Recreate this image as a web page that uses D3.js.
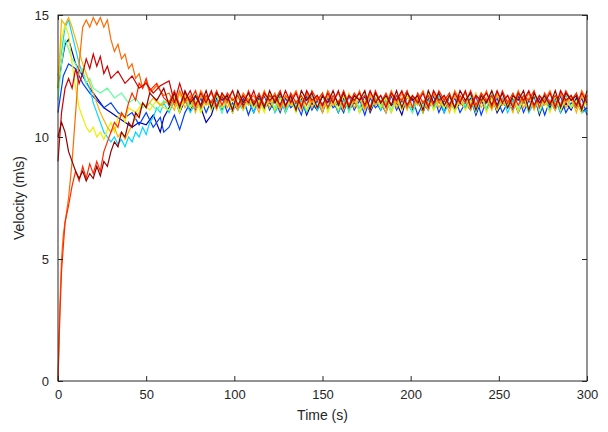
<!DOCTYPE html>
<html><head><meta charset="utf-8">
<script src="https://cdn.jsdelivr.net/npm/d3@7"></script>
<style>body{margin:0;background:#fff}text{font-family:"Liberation Sans",Arial,sans-serif}</style>
</head><body><svg></svg>
<script>
// transient part of each run: [time, velocity]
var trans0=[[0,12],[2,13],[4,13.8],[6,14],[8,13.5],[10,13],[14,12.5],[18,12],[22,11.6],[26,11.2],[30,11],[34,10.8],[38,10.6],[42,10.4],[46,10.6],[50,10.5],[54,10.9],[58,10.2],[60,10.8]];
var trans1=[[0,11],[3,12.5],[6,13],[10,12.8],[14,12.2],[18,11.8],[22,11.5],[26,11.2],[30,11.4],[34,11],[38,10.8],[42,11],[46,10.5],[50,11],[54,10.4],[58,10.8],[60,10.2]];
var trans2=[[0,12.5],[2,13.5],[4,14.5],[6,14.8],[8,14.2],[10,13.6],[12,13],[14,12.6],[16,12.2],[18,12],[20,11.4],[22,11],[24,10.6],[26,10.2],[28,10],[30,9.8],[32,10],[34,9.7],[36,9.9],[38,9.6],[40,10],[42,9.8],[44,10.2],[46,10],[48,10.4],[50,10.1],[52,10.6],[54,10.8],[56,11.2],[58,11],[60,11.4]];
var trans3=[[0,11.5],[2,13],[4,14],[6,13.6],[8,13.2],[10,13],[12,12.6],[14,12.8],[16,12.2],[18,12.4],[20,12],[24,11.8],[28,12],[32,11.6],[36,11.8],[40,11.4],[44,11.6],[48,11.2],[52,11.4],[56,11.1],[60,11.5]];
var trans4=[[0,12],[2,14],[4,14.6],[6,14.2],[8,13],[10,12],[12,11.2],[14,10.8],[16,10.4],[18,10.2],[20,10.4],[22,10],[24,10.2],[26,9.9],[28,10.3],[30,10.6],[32,10.2],[34,10.8],[36,11],[38,10.6],[40,11.2],[44,11],[48,11.4],[52,11.1],[56,11.5],[60,11.2]];
var trans5=[[0,12],[2,14.8],[4,14.6],[6,14.9],[8,14.5],[10,14],[12,13.5],[14,13],[16,12.6],[18,12.2],[20,11.8],[22,11.4],[24,11],[26,10.7],[28,10.4],[30,10.2],[32,10.4],[34,10],[36,10.2],[38,9.9],[40,10.2],[42,10.5],[44,10.8],[46,11],[48,11.4],[50,11.2],[54,11.6],[58,11.3]];
var trans6=[[0,0],[1,3],[2,5],[3,6],[4,6.5],[6,7.5],[8,9],[10,11],[12,13],[14,14.5],[16,14.8],[18,14.5],[20,14.9],[22,14.6],[24,14.9],[26,14.5],[28,14.8],[30,14],[32,13.5],[34,13.8],[36,13.2],[38,13.4],[40,12.8],[42,13],[44,12.4],[46,12.6],[48,12],[50,12.3],[52,11.8],[56,12.1],[60,11.7]];
var trans7=[[0,0],[1,2.5],[2,4.5],[3,5.5],[4,6.5],[6,7.2],[8,8],[10,8.6],[12,8.2],[14,8.8],[16,8.3],[18,8.9],[20,8.5],[22,9],[24,8.6],[26,9.4],[28,9.8],[30,10.2],[32,10.6],[34,10.4],[36,11],[38,10.8],[40,11.4],[42,11.8],[44,11.5],[46,12.2],[48,12],[50,12.4],[52,11.9],[56,12.2],[60,11.6]];
var trans8=[[0,9],[2,11],[4,12],[6,12.4],[8,12],[10,12.8],[12,12.2],[14,12.6],[16,13.2],[18,12.8],[20,13.4],[22,12.9],[24,13.3],[26,12.6],[28,12.9],[30,12.4],[34,12.7],[38,12.2],[42,12.5],[46,12],[50,12.2],[54,11.8],[58,12.1]];
var trans9=[[0,10],[2,10.6],[4,10.2],[6,9.4],[8,9],[10,8.6],[12,8.3],[14,8.6],[16,8.2],[18,8.5],[20,8.3],[22,8.8],[24,8.4],[26,9],[28,8.8],[30,9.4],[32,9.8],[34,9.6],[36,10.2],[38,10],[40,10.6],[42,10.4],[44,11],[46,10.8],[48,11.4],[50,11.2],[52,11.8],[56,11.5],[60,12]];

// steady part, one value every 3 s from 63 s to 300 s
var steadyStart=63, steadyStep=3;
var steady0=[11.2,11.6,11.0,11.5,11.1,11.7,11.2,10.6,10.9,11.6,11.1,11.5,11.0,11.7,11.3,11.5,11.0,11.6,11.2,11.4,
11.1,11.7,11.0,11.5,11.2,11.6,10.9,11.4,11.1,11.7,11.2,11.5,11.0,11.6,11.1,11.4,11.2,11.7,11.0,11.5,
11.1,11.6,11.3,11.4,10.9,11.7,11.1,11.5,11.0,11.6,11.2,11.5,11.0,11.7,11.1,11.4,11.2,11.6,10.9,11.5,
11.1,11.7,11.0,11.4,11.2,11.6,11.0,11.5,11.1,11.7,10.9,11.5,11.2,11.6,11.0,11.4,11.1,11.6,11.0,11.2];
var steady1=[10.4,10.9,10.3,11.0,11.4,11.1,11.6,11.0,11.5,11.2,11.7,11.0,11.4,11.1,11.6,10.9,11.5,11.2,11.7,11.1,
11.5,11.0,11.6,11.2,11.4,10.9,11.7,11.1,11.5,11.0,11.6,11.2,11.4,11.0,11.7,11.1,11.5,10.9,11.6,11.2,
11.4,11.0,11.7,11.1,11.5,11.2,11.6,10.9,11.4,11.1,11.7,11.0,11.5,11.2,11.6,11.0,11.4,11.1,11.7,10.9,
11.5,11.2,11.6,11.0,11.4,11.1,11.7,11.0,11.5,11.2,11.6,10.9,11.5,11.1,11.7,11.0,11.4,11.2,11.6,10.9];
var steady2=[11.0,11.5,11.1,11.6,11.0,11.4,11.2,11.6,11.1,11.5,11.0,11.7,11.2,11.4,11.1,11.6,11.0,11.5,11.2,11.7,
11.0,11.4,11.1,11.6,11.2,11.5,11.0,11.7,11.1,11.4,11.2,11.6,11.0,11.5,11.1,11.7,11.0,11.4,11.2,11.6,
11.1,11.5,11.0,11.7,11.2,11.4,11.0,11.6,11.1,11.5,11.2,11.7,11.0,11.4,11.1,11.6,11.2,11.5,11.0,11.7,
11.1,11.4,11.2,11.6,11.0,11.5,11.1,11.7,11.0,11.4,11.2,11.6,11.1,11.5,11.0,11.7,11.2,11.4,11.0,11.1];
var steady3=[11.3,11.7,11.1,11.6,11.2,11.8,11.1,11.5,11.3,11.7,11.0,11.6,11.2,11.8,11.1,11.5,11.3,11.7,11.1,11.6,
11.2,11.8,11.0,11.5,11.3,11.7,11.1,11.6,11.2,11.8,11.1,11.5,11.3,11.7,11.0,11.6,11.2,11.8,11.1,11.5,
11.3,11.7,11.1,11.6,11.2,11.8,11.0,11.5,11.3,11.7,11.1,11.6,11.2,11.8,11.1,11.5,11.3,11.7,11.0,11.6,
11.2,11.8,11.1,11.5,11.3,11.7,11.1,11.6,11.2,11.8,11.0,11.5,11.3,11.7,11.1,11.6,11.2,11.8,11.1,11.5];
var steady4=[11.1,11.6,11.0,11.7,11.2,11.5,11.0,11.6,11.1,11.8,11.2,11.5,11.0,11.7,11.1,11.6,11.2,11.5,11.0,11.8,
11.1,11.6,11.2,11.5,11.0,11.7,11.1,11.6,11.2,11.8,11.0,11.5,11.1,11.7,11.2,11.6,11.0,11.5,11.1,11.8,
11.2,11.6,11.0,11.5,11.1,11.7,11.2,11.6,11.0,11.8,11.1,11.5,11.2,11.7,11.0,11.6,11.1,11.5,11.2,11.8,
11.0,11.6,11.1,11.5,11.2,11.7,11.0,11.6,11.1,11.8,11.2,11.5,11.0,11.7,11.1,11.6,11.2,11.5,11.0,11.7];
var steady5=[11.5,11.1,11.8,11.2,11.6,11.0,11.7,11.3,11.5,11.1,11.8,11.2,11.6,11.1,11.7,11.3,11.5,11.0,11.8,11.2,
11.6,11.1,11.7,11.3,11.5,11.1,11.8,11.2,11.6,11.0,11.7,11.3,11.5,11.1,11.8,11.2,11.6,11.1,11.7,11.3,
11.5,11.0,11.8,11.2,11.6,11.1,11.7,11.3,11.5,11.1,11.8,11.2,11.6,11.0,11.7,11.3,11.5,11.1,11.8,11.2,
11.6,11.1,11.7,11.3,11.5,11.0,11.8,11.2,11.6,11.1,11.7,11.3,11.5,11.1,11.8,11.2,11.6,11.0,11.7,11.3];
var steady6=[11.8,11.3,11.9,11.4,11.7,11.2,11.9,11.5,11.8,11.3,11.7,11.4,11.9,11.2,11.8,11.5,11.7,11.3,11.9,11.4,
11.8,11.2,11.7,11.5,11.9,11.3,11.8,11.4,11.7,11.2,11.9,11.5,11.8,11.3,11.7,11.4,11.9,11.2,11.8,11.5,
11.7,11.3,11.9,11.4,11.8,11.2,11.7,11.5,11.9,11.3,11.8,11.4,11.7,11.2,11.9,11.5,11.8,11.3,11.7,11.4,
11.9,11.2,11.8,11.5,11.7,11.3,11.9,11.4,11.8,11.2,11.7,11.5,11.9,11.3,11.8,11.4,11.7,11.2,11.9,11.5];
var steady7=[11.4,11.9,11.3,11.8,11.5,11.9,11.2,11.7,11.4,11.9,11.3,11.8,11.5,11.7,11.2,11.9,11.4,11.8,11.3,11.7,
11.5,11.9,11.2,11.8,11.4,11.7,11.3,11.9,11.5,11.8,11.2,11.7,11.4,11.9,11.3,11.8,11.5,11.7,11.2,11.9,
11.4,11.8,11.3,11.7,11.5,11.9,11.2,11.8,11.4,11.7,11.3,11.9,11.5,11.8,11.2,11.7,11.4,11.9,11.3,11.8,
11.5,11.7,11.2,11.9,11.4,11.8,11.3,11.7,11.5,11.9,11.2,11.8,11.4,11.7,11.3,11.9,11.5,11.8,11.2,11.7];
var steady8=[12.3,11.4,12.2,11.5,11.9,11.3,11.8,11.4,11.9,11.2,11.8,11.5,11.9,11.3,11.7,11.4,11.9,11.2,11.8,11.5,
11.7,11.3,11.9,11.4,11.8,11.2,11.9,11.5,11.7,11.3,11.8,11.4,11.9,11.2,11.7,11.5,11.8,11.3,11.9,11.4,
11.7,11.2,11.8,11.5,11.9,11.3,11.7,11.4,11.8,11.2,11.9,11.5,11.7,11.3,11.8,11.4,11.9,11.2,11.7,11.5,
11.8,11.3,11.9,11.4,11.7,11.2,11.8,11.5,11.9,11.3,11.7,11.4,11.8,11.2,11.9,11.5,11.7,11.3,11.8,11.4];
var steady9=[11.3,11.8,11.2,11.9,11.4,11.7,11.3,11.9,11.2,11.8,11.5,11.7,11.1,11.9,11.4,11.8,11.3,11.7,11.2,11.9,
11.4,11.8,11.3,11.7,11.1,11.9,11.5,11.8,11.2,11.7,11.4,11.9,11.3,11.8,11.2,11.7,11.5,11.9,11.1,11.8,
11.4,11.7,11.3,11.9,11.2,11.8,11.5,11.7,11.1,11.9,11.4,11.8,11.3,11.7,11.2,11.9,11.5,11.8,11.1,11.7,
11.4,11.9,11.3,11.8,11.2,11.7,11.5,11.9,11.1,11.8,11.4,11.7,11.3,11.9,11.2,11.8,11.5,11.7,11.1,11.9];

var colors=["#0000b0","#0040ff","#00d8ff","#60ffa0","#e8f000","#ffb000","#ff6a00","#ff2a00","#d00000","#900000"];
var xTicks=[0,50,100,150,200,250,300], yTicks=[0,5,10,15];

var transients=[trans0,trans1,trans2,trans3,trans4,trans5,trans6,trans7,trans8,trans9];
var steadies=[steady0,steady1,steady2,steady3,steady4,steady5,steady6,steady7,steady8,steady9];
var runs=transients.map(function(tr,i){
  var pts=tr.slice();
  steadies[i].forEach(function(v,j){pts.push([steadyStart+j*steadyStep,v]);});
  return pts;
});

var W=608,H=432,m={l:58,r:21,t:15,b:51};
var svg=d3.select('svg').attr('width',W).attr('height',H);
var x=d3.scaleLinear().domain([0,300]).range([m.l,W-m.r]);
var y=d3.scaleLinear().domain([0,15]).range([H-m.b,m.t]);

var line=d3.line().x(d=>x(d[0])).y(d=>y(d[1]));
svg.append('g').selectAll('path').data(runs).enter().append('path')
  .attr('d',line).attr('fill','none').attr('stroke-width',1.2)
  .attr('stroke',(d,i)=>colors[i]);

// box + inward ticks, matlab style
svg.append('rect').attr('x',m.l).attr('y',m.t).attr('width',W-m.r-m.l).attr('height',H-m.b-m.t)
  .attr('fill','none').attr('stroke','#262626');
function style(g){g.select('.domain').remove();g.selectAll('text').attr('font-size',13).attr('fill','#262626');g.selectAll('line').attr('stroke','#262626');}
svg.append('g').attr('transform','translate(0,'+(H-m.b)+')')
  .call(d3.axisBottom(x).tickValues(xTicks).tickSizeInner(-5).tickSizeOuter(0).tickPadding(9)).call(style);
svg.append('g').attr('transform','translate(0,'+m.t+')')
  .call(d3.axisTop(x).tickValues(xTicks).tickSizeInner(-5).tickSizeOuter(0).tickFormat('')).call(style);
svg.append('g').attr('transform','translate('+m.l+',0)')
  .call(d3.axisLeft(y).tickValues(yTicks).tickSizeInner(-5).tickSizeOuter(0).tickPadding(9)).call(style);
svg.append('g').attr('transform','translate('+(W-m.r)+',0)')
  .call(d3.axisRight(y).tickValues(yTicks).tickSizeInner(-5).tickSizeOuter(0).tickFormat('')).call(style);

svg.append('text').attr('x',(m.l+W-m.r)/2).attr('y',H-12).attr('text-anchor','middle')
  .attr('font-size',14).attr('fill','#262626').text('Time (s)');
svg.append('text').attr('transform','translate(24,'+((m.t+H-m.b)/2)+') rotate(-90)')
  .attr('text-anchor','middle').attr('font-size',14).attr('fill','#262626').text('Velocity (m\\s)');
</script></body></html>
